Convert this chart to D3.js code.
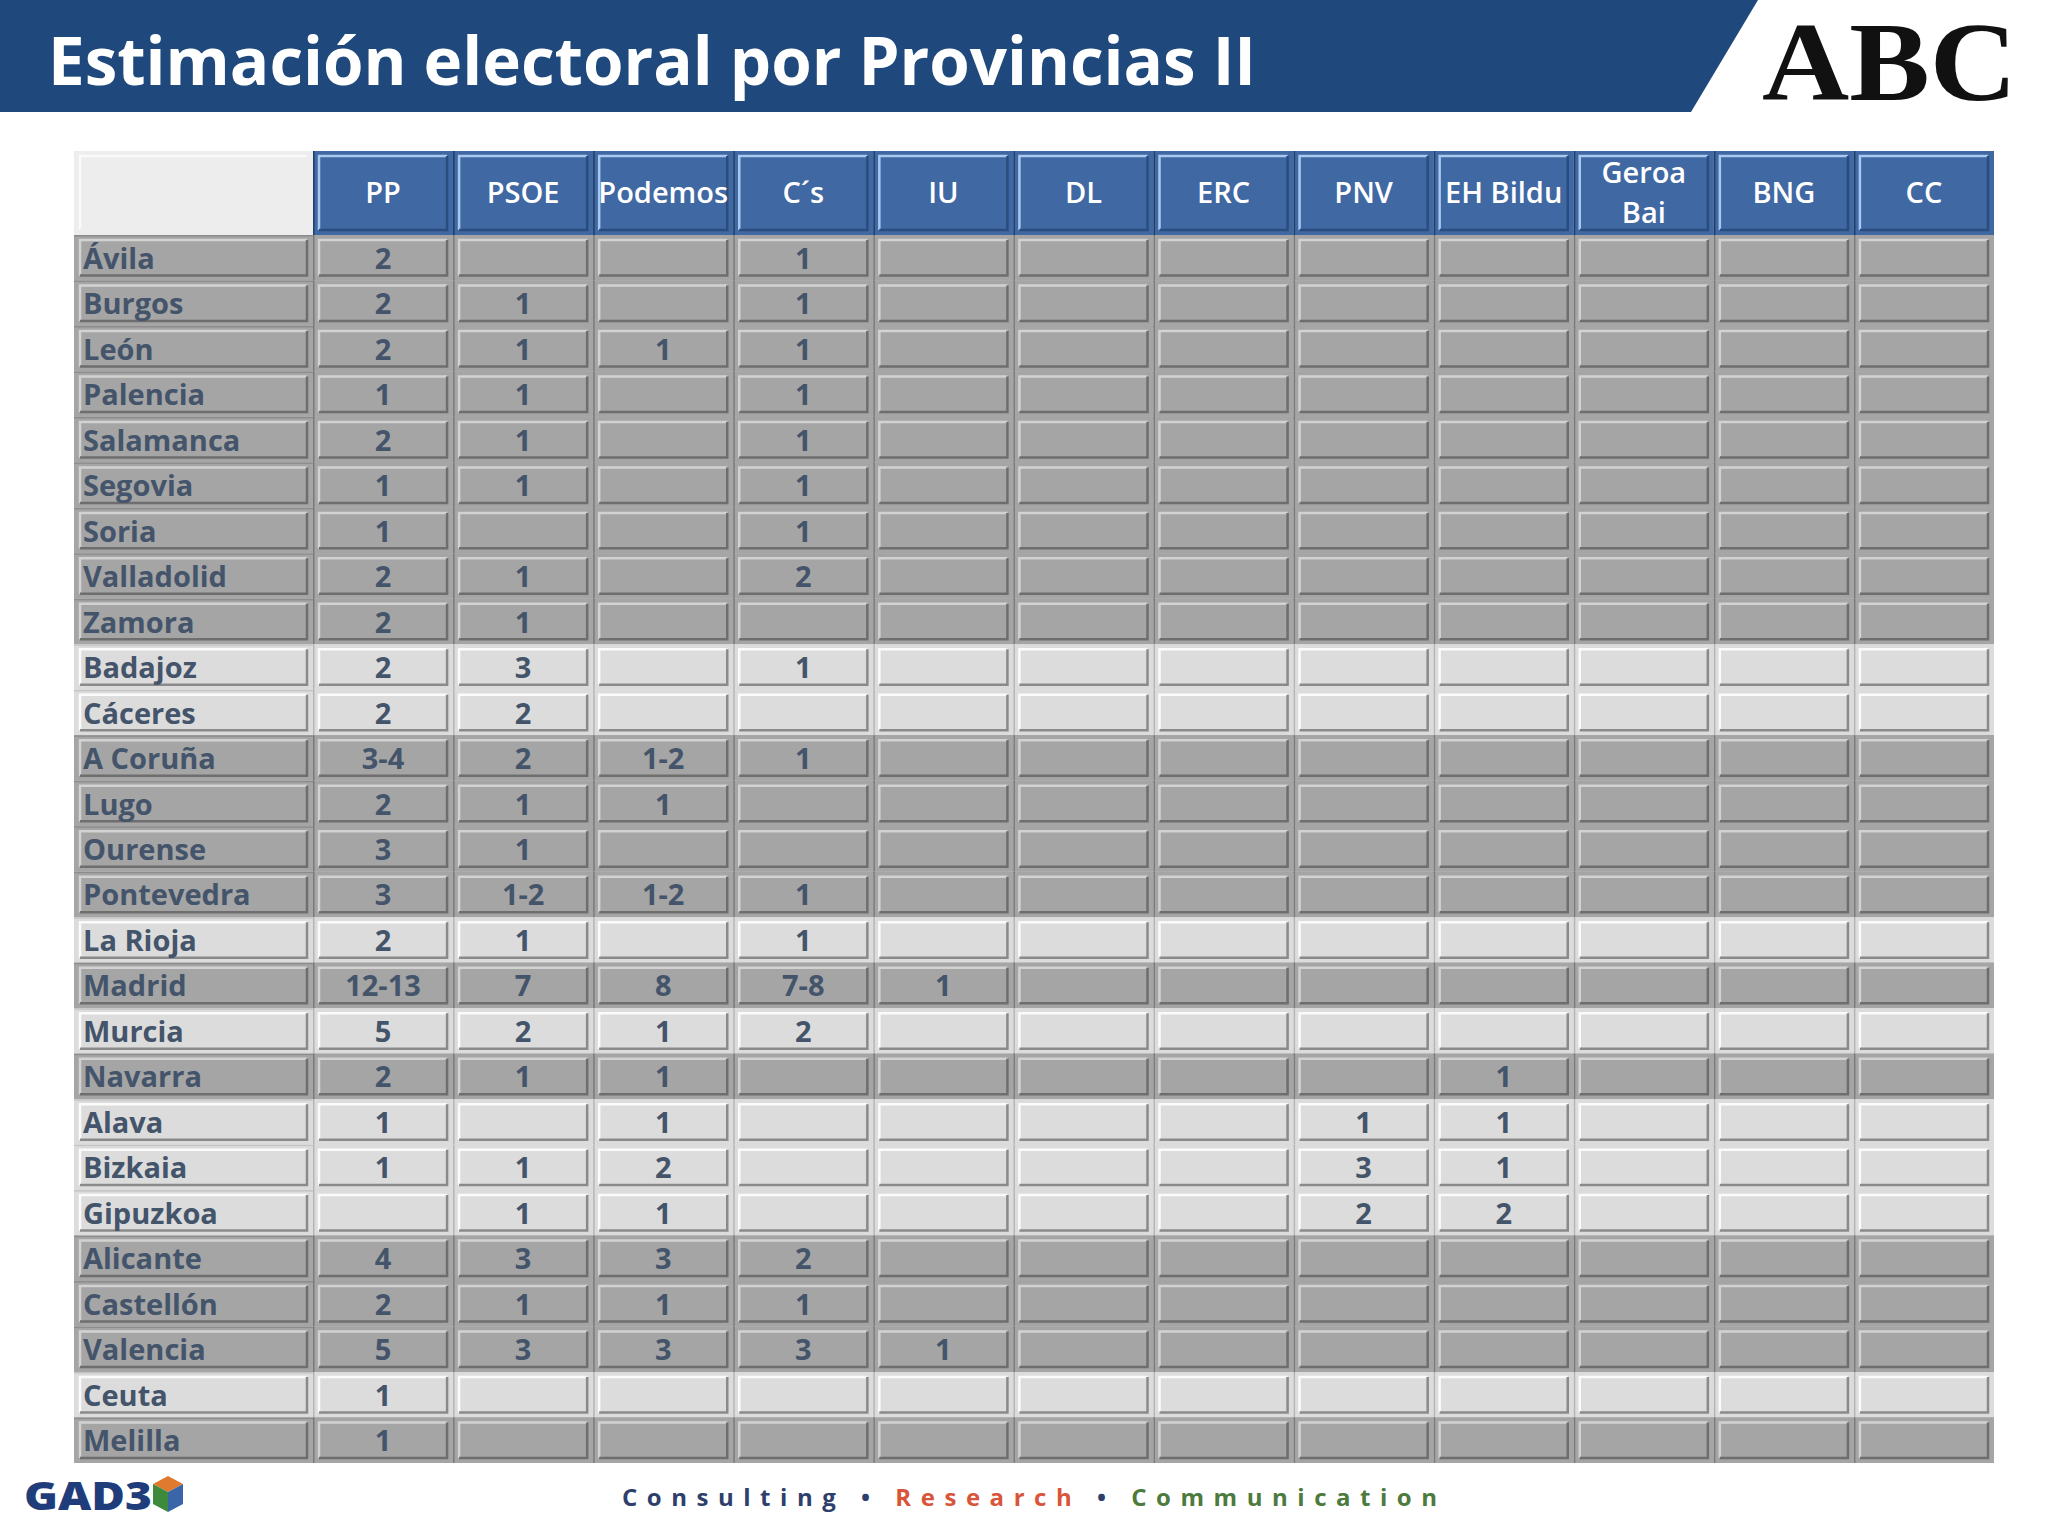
<!DOCTYPE html><html><head><meta charset="utf-8"><script src="https://cdn.jsdelivr.net/npm/d3@7"></script>
<style>body{margin:0;background:#fff}</style></head><body><svg id="c" width="2048" height="1536"></svg>
<script>
const title = "Estimación electoral por Provincias II";
const parties = ["PP","PSOE","Podemos","C´s","IU","DL","ERC","PNV","EH Bildu","Geroa Bai","BNG","CC"];
const provinces = ["Ávila","Burgos","León","Palencia","Salamanca","Segovia","Soria","Valladolid","Zamora","Badajoz","Cáceres","A Coruña","Lugo","Ourense","Pontevedra","La Rioja","Madrid","Murcia","Navarra","Alava","Bizkaia","Gipuzkoa","Alicante","Castellón","Valencia","Ceuta","Melilla"];
const shade = ["d","d","d","d","d","d","d","d","d","l","l","d","d","d","d","l","d","l","d","l","l","l","d","d","d","l","d"];
const seats = [
["2","","","1"],["2","1","","1"],["2","1","1","1"],["1","1","","1"],["2","1","","1"],["1","1","","1"],["1","","","1"],["2","1","","2"],["2","1","",""],
["2","3","","1"],["2","2","",""],["3-4","2","1-2","1"],["2","1","1",""],["3","1","",""],["3","1-2","1-2","1"],["2","1","","1"],
["12-13","7","8","7-8","1"],["5","2","1","2"],["2","1","1","","","","","","1"],["1","","1","","","","","1","1"],["1","1","2","","","","","3","1"],["","1","1","","","","","2","2"],
["4","3","3","2"],["2","1","1","1"],["5","3","3","3","1"],["1"],["1"]];
const svg=d3.select("#c");
const F="'Open Sans',sans-serif";
svg.append("path").attr("d","M0,0H1758L1691,112H0Z").attr("fill","#1f497d");
svg.append("text").attr("x",48).attr("y",85).attr("fill","#fff").attr("font-family",F).attr("font-weight",700)
 .attr("font-size",66).attr("textLength",1208).attr("lengthAdjust","spacingAndGlyphs").text(title);
svg.append("text").attr("x",1762).attr("y",100).attr("font-family","'Liberation Serif',serif").attr("font-weight",700).attr("font-size",112)
 .attr("textLength",255).attr("lengthAdjust","spacingAndGlyphs").attr("fill","#111").text("ABC");
const x0=74,xl=313,xr=1994,yt=151,yh=235,yb=1463;
const x=d3.scaleBand().domain(parties).range([xl,xr]);
const y=d3.scaleBand().domain(provinces).range([yh,yb]);
const txt="#44546a";
function bevel(g,x1,y1,w,h,fill,dk,lt){
 g.append("rect").attr("x",x1).attr("y",y1).attr("width",w).attr("height",h).attr("fill",fill);
 const ix=x1+6,iy=y1+5,iw=w-12,ih=h-10;
 g.append("path").attr("d",`M${ix},${iy+ih}V${iy}H${ix+iw}`).attr("stroke",lt).attr("stroke-width",2.5).attr("fill","none");
 g.append("path").attr("d",`M${ix+iw},${iy}V${iy+ih}H${ix}`).attr("stroke",dk).attr("stroke-width",2.5).attr("fill","none");
}
bevel(svg,x0,yt,xl-x0,yh-yt,"#ededed","#ededed","#fafafa");
parties.forEach(p=>{
 const g=svg.append("g");
 bevel(g,x(p),yt,x.bandwidth(),yh-yt,"#4068a3","#2b4d7e","#a8c8f0");
 g.append("rect").attr("x",x(p)).attr("y",yt).attr("width",1.5).attr("height",yh-yt).attr("fill","#1f3d66");
 const lines=p==="Geroa Bai"?["Geroa","Bai"]:[p];
 lines.forEach((l,i)=>g.append("text").attr("x",x(p)+x.bandwidth()/2).attr("y",(yt+yh)/2+10+(i-(lines.length-1)/2)*40)
  .attr("text-anchor","middle").attr("fill","#fff").attr("font-family",F).attr("font-weight",600).attr("font-size",29).text(l));
});
provinces.forEach((pr,i)=>{
 const dark=shade[i]==="d", fill=dark?"#a5a5a5":"#dcdcdc", dk=dark?"#6e6e6e":"#8a8a8a", lt=dark?"#d2d2d2":"#fbfbfb";
 const g=svg.append("g"), yy=y(pr), h=y.bandwidth();
 bevel(g,x0,yy,xl-x0,h,fill,dk,lt);
 g.append("rect").attr("x",x0).attr("y",yy).attr("width",xr-x0).attr("height",1.5).attr("fill",dark?"#8c8c8c":"#c4c4c4");
 g.append("text").attr("x",x0+9).attr("y",yy+h/2+11).attr("fill",txt).attr("font-family",F).attr("font-weight",700).attr("font-size",29).text(pr);
 parties.forEach((p,j)=>{
  bevel(g,x(p),yy,x.bandwidth(),h,fill,dk,lt);
  g.append("rect").attr("x",x(p)).attr("y",yy).attr("width",1.5).attr("height",h).attr("fill",dark?"#7a7a7a":"#b5b5b5");
  const v=seats[i][j]||"";
  if(v) g.append("text").attr("x",x(p)+x.bandwidth()/2).attr("y",yy+h/2+11).attr("text-anchor","middle")
   .attr("fill",txt).attr("font-family",F).attr("font-weight",700).attr("font-size",29).text(v);
 });
});
svg.append("text").attr("x",24).attr("y",1510).attr("font-family",F).attr("font-weight",800).attr("font-size",38)
 .attr("fill","#1f3d7a").attr("textLength",128).attr("lengthAdjust","spacingAndGlyphs").text("GAD3");
const cube=svg.append("g").attr("transform","translate(168,1494)");
cube.append("path").attr("d","M0,-18L15,-10L0,-2L-15,-10Z").attr("fill","#e07a2e");
cube.append("path").attr("d","M-15,-10L0,-2V18L-15,10Z").attr("fill","#3d8a3d");
cube.append("path").attr("d","M15,-10L0,-2V18L15,10Z").attr("fill","#3a66a8");
const ft=svg.append("text").attr("x",622).attr("y",1506).attr("font-family",F).attr("font-weight",700).attr("font-size",24)
 .attr("textLength",815).attr("lengthAdjust","spacing");
[["Consulting","#2f3f6b"],[" • ","#2f3f6b"],["Research","#d9553a"],[" • ","#2f3f6b"],["Communication","#4d7a3d"]]
 .forEach(([t,c])=>ft.append("tspan").attr("fill",c).text(t));
</script></body></html>
